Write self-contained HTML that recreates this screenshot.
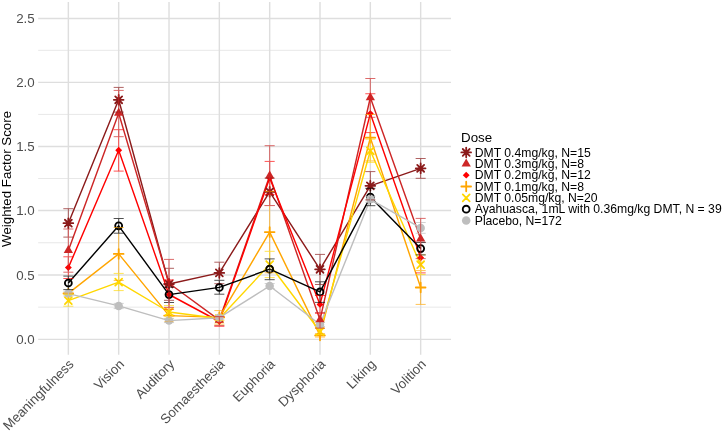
<!DOCTYPE html><html><head><meta charset="utf-8"><title>Weighted Factor Score by Dose</title><style>html,body{margin:0;padding:0;background:#fff}svg{display:block}text{font-family:"Liberation Sans",Arial,sans-serif}</style></head><body>
<svg width="722" height="432" viewBox="0 0 722 432">
<rect width="722" height="432" fill="#fff"/>
<g stroke="#DEDEDE" fill="none">
<path d="M38.15 307.15H451.0" stroke-width="0.71"/>
<path d="M38.15 242.75H451.0" stroke-width="0.71"/>
<path d="M38.15 178.50H451.0" stroke-width="0.71"/>
<path d="M38.15 114.40H451.0" stroke-width="0.71"/>
<path d="M38.15 50.35H451.0" stroke-width="0.71"/>
<path d="M38.15 339.40H451.0" stroke-width="1.42"/>
<path d="M38.15 275.00H451.0" stroke-width="1.42"/>
<path d="M38.15 210.50H451.0" stroke-width="1.42"/>
<path d="M38.15 146.45H451.0" stroke-width="1.42"/>
<path d="M38.15 82.40H451.0" stroke-width="1.42"/>
<path d="M38.15 18.50H451.0" stroke-width="1.42"/>
<path d="M68.35 2.0V354.7" stroke-width="1.42"/>
<path d="M118.68 2.0V354.7" stroke-width="1.42"/>
<path d="M169.01 2.0V354.7" stroke-width="1.42"/>
<path d="M219.34 2.0V354.7" stroke-width="1.42"/>
<path d="M269.67 2.0V354.7" stroke-width="1.42"/>
<path d="M320.00 2.0V354.7" stroke-width="1.42"/>
<path d="M370.33 2.0V354.7" stroke-width="1.42"/>
<path d="M420.66 2.0V354.7" stroke-width="1.42"/>
</g>
<g fill="none" stroke-width="1.42" stroke-linejoin="round" stroke-linecap="butt">
<path d="M68.35 223.20L118.68 99.80L169.01 284.00L219.34 272.90L269.67 191.80L320.00 269.30L370.33 185.80L420.66 168.30" stroke="#8B1A1A"/>
<path d="M68.35 250.40L118.68 113.20L169.01 283.20L219.34 320.10L269.67 175.80L320.00 319.80L370.33 97.50L420.66 238.90" stroke="#CD2626"/>
<path d="M68.35 267.60L118.68 150.30L169.01 294.50L219.34 321.50L269.67 177.90L320.00 304.40L370.33 113.60L420.66 257.70" stroke="#FF0000"/>
<path d="M68.35 293.40L118.68 253.90L169.01 315.60L219.34 317.40L269.67 232.10L320.00 335.40L370.33 137.70L420.66 287.50" stroke="#FFA500"/>
<path d="M68.35 300.60L118.68 282.10L169.01 312.00L219.34 318.50L269.67 264.50L320.00 331.50L370.33 150.80L420.66 264.70" stroke="#FFD700"/>
<path d="M68.35 283.00L118.68 225.80L169.01 294.60L219.34 287.40L269.67 269.20L320.00 291.90L370.33 197.10L420.66 248.60" stroke="#000000"/>
<path d="M68.35 293.60L118.68 305.90L169.01 320.60L219.34 317.70L269.67 286.00L320.00 324.50L370.33 199.30L420.66 227.90" stroke="#BEBEBE"/>
</g>
<g>
<path d="M64.91 219.76L71.79 226.64M64.91 226.64L71.79 219.76M63.49 223.20L73.21 223.20M68.35 218.34L68.35 228.06" stroke="#8B1A1A" stroke-width="1.8" stroke-linecap="round" fill="none"/>
<path d="M64.91 267.60L68.35 264.16L71.79 267.60L68.35 271.04Z" fill="#FF0000"/>
<path d="M63.49 293.40L73.21 293.40M68.35 288.54L68.35 298.26" stroke="#FFA500" stroke-width="1.8" stroke-linecap="round" fill="none"/>
<path d="M64.91 297.16L71.79 304.04M64.91 304.04L71.79 297.16" stroke="#FFD700" stroke-width="1.8" stroke-linecap="round" fill="none"/>
<circle cx="68.35" cy="283.00" r="3.44" fill="none" stroke="#000000" stroke-width="1.87"/>
<circle cx="68.35" cy="293.60" r="4.26" fill="#BEBEBE"/>
<path d="M68.35 245.05L72.98 253.07L63.72 253.07Z" fill="#CD2626"/>
<path d="M115.24 96.36L122.12 103.24M115.24 103.24L122.12 96.36M113.82 99.80L123.54 99.80M118.68 94.94L118.68 104.66" stroke="#8B1A1A" stroke-width="1.8" stroke-linecap="round" fill="none"/>
<path d="M115.24 150.30L118.68 146.86L122.12 150.30L118.68 153.74Z" fill="#FF0000"/>
<path d="M113.82 253.90L123.54 253.90M118.68 249.04L118.68 258.76" stroke="#FFA500" stroke-width="1.8" stroke-linecap="round" fill="none"/>
<path d="M115.24 278.66L122.12 285.54M115.24 285.54L122.12 278.66" stroke="#FFD700" stroke-width="1.8" stroke-linecap="round" fill="none"/>
<circle cx="118.68" cy="225.80" r="3.44" fill="none" stroke="#000000" stroke-width="1.87"/>
<circle cx="118.68" cy="305.90" r="4.26" fill="#BEBEBE"/>
<path d="M118.68 107.85L123.31 115.87L114.05 115.87Z" fill="#CD2626"/>
<path d="M169.01 277.85L173.64 285.87L164.38 285.87Z" fill="#CD2626"/>
<path d="M165.57 280.56L172.45 287.44M165.57 287.44L172.45 280.56M164.15 284.00L173.87 284.00M169.01 279.14L169.01 288.86" stroke="#8B1A1A" stroke-width="1.8" stroke-linecap="round" fill="none"/>
<path d="M165.57 294.50L169.01 291.06L172.45 294.50L169.01 297.94Z" fill="#FF0000"/>
<path d="M164.15 315.60L173.87 315.60M169.01 310.74L169.01 320.46" stroke="#FFA500" stroke-width="1.8" stroke-linecap="round" fill="none"/>
<path d="M165.57 308.56L172.45 315.44M165.57 315.44L172.45 308.56" stroke="#FFD700" stroke-width="1.8" stroke-linecap="round" fill="none"/>
<circle cx="169.01" cy="294.60" r="3.44" fill="none" stroke="#000000" stroke-width="1.87"/>
<circle cx="169.01" cy="320.60" r="4.26" fill="#BEBEBE"/>
<path d="M215.90 269.46L222.78 276.34M215.90 276.34L222.78 269.46M214.48 272.90L224.20 272.90M219.34 268.04L219.34 277.76" stroke="#8B1A1A" stroke-width="1.8" stroke-linecap="round" fill="none"/>
<path d="M215.90 321.50L219.34 318.06L222.78 321.50L219.34 324.94Z" fill="#FF0000"/>
<path d="M214.48 317.40L224.20 317.40M219.34 312.54L219.34 322.26" stroke="#FFA500" stroke-width="1.8" stroke-linecap="round" fill="none"/>
<path d="M215.90 315.06L222.78 321.94M215.90 321.94L222.78 315.06" stroke="#FFD700" stroke-width="1.8" stroke-linecap="round" fill="none"/>
<circle cx="219.34" cy="287.40" r="3.44" fill="none" stroke="#000000" stroke-width="1.87"/>
<path d="M219.34 314.75L223.97 322.77L214.71 322.77Z" fill="#CD2626"/>
<circle cx="219.34" cy="317.70" r="4.26" fill="#BEBEBE"/>
<path d="M266.23 188.36L273.11 195.24M266.23 195.24L273.11 188.36M264.81 191.80L274.53 191.80M269.67 186.94L269.67 196.66" stroke="#8B1A1A" stroke-width="1.8" stroke-linecap="round" fill="none"/>
<path d="M266.23 177.90L269.67 174.46L273.11 177.90L269.67 181.34Z" fill="#FF0000"/>
<path d="M264.81 232.10L274.53 232.10M269.67 227.24L269.67 236.96" stroke="#FFA500" stroke-width="1.8" stroke-linecap="round" fill="none"/>
<path d="M266.23 261.06L273.11 267.94M266.23 267.94L273.11 261.06" stroke="#FFD700" stroke-width="1.8" stroke-linecap="round" fill="none"/>
<circle cx="269.67" cy="269.20" r="3.44" fill="none" stroke="#000000" stroke-width="1.87"/>
<circle cx="269.67" cy="286.00" r="4.26" fill="#BEBEBE"/>
<path d="M269.67 170.45L274.30 178.47L265.04 178.47Z" fill="#CD2626"/>
<path d="M316.56 265.86L323.44 272.74M316.56 272.74L323.44 265.86M315.14 269.30L324.86 269.30M320.00 264.44L320.00 274.16" stroke="#8B1A1A" stroke-width="1.8" stroke-linecap="round" fill="none"/>
<path d="M316.56 304.40L320.00 300.96L323.44 304.40L320.00 307.84Z" fill="#FF0000"/>
<path d="M315.14 335.40L324.86 335.40M320.00 330.54L320.00 340.26" stroke="#FFA500" stroke-width="1.8" stroke-linecap="round" fill="none"/>
<path d="M316.56 328.06L323.44 334.94M316.56 334.94L323.44 328.06" stroke="#FFD700" stroke-width="1.8" stroke-linecap="round" fill="none"/>
<circle cx="320.00" cy="291.90" r="3.44" fill="none" stroke="#000000" stroke-width="1.87"/>
<circle cx="320.00" cy="324.50" r="4.26" fill="#BEBEBE"/>
<path d="M320.00 314.45L324.63 322.47L315.37 322.47Z" fill="#CD2626"/>
<path d="M366.89 182.36L373.77 189.24M366.89 189.24L373.77 182.36M365.47 185.80L375.19 185.80M370.33 180.94L370.33 190.66" stroke="#8B1A1A" stroke-width="1.8" stroke-linecap="round" fill="none"/>
<path d="M366.89 113.60L370.33 110.16L373.77 113.60L370.33 117.04Z" fill="#FF0000"/>
<path d="M365.47 137.70L375.19 137.70M370.33 132.84L370.33 142.56" stroke="#FFA500" stroke-width="1.8" stroke-linecap="round" fill="none"/>
<path d="M366.89 147.36L373.77 154.24M366.89 154.24L373.77 147.36" stroke="#FFD700" stroke-width="1.8" stroke-linecap="round" fill="none"/>
<circle cx="370.33" cy="197.10" r="3.44" fill="none" stroke="#000000" stroke-width="1.87"/>
<circle cx="370.33" cy="199.30" r="4.26" fill="#BEBEBE"/>
<path d="M370.33 92.15L374.96 100.17L365.70 100.17Z" fill="#CD2626"/>
<path d="M417.22 164.86L424.10 171.74M417.22 171.74L424.10 164.86M415.80 168.30L425.52 168.30M420.66 163.44L420.66 173.16" stroke="#8B1A1A" stroke-width="1.8" stroke-linecap="round" fill="none"/>
<path d="M417.22 257.70L420.66 254.26L424.10 257.70L420.66 261.14Z" fill="#FF0000"/>
<path d="M415.80 287.50L425.52 287.50M420.66 282.64L420.66 292.36" stroke="#FFA500" stroke-width="1.8" stroke-linecap="round" fill="none"/>
<path d="M417.22 261.26L424.10 268.14M417.22 268.14L424.10 261.26" stroke="#FFD700" stroke-width="1.8" stroke-linecap="round" fill="none"/>
<circle cx="420.66" cy="248.60" r="3.44" fill="none" stroke="#000000" stroke-width="1.87"/>
<circle cx="420.66" cy="227.90" r="4.26" fill="#BEBEBE"/>
<path d="M420.66 233.55L425.29 241.57L416.03 241.57Z" fill="#CD2626"/>
</g>
<g fill="none" stroke-width="1" opacity="0.68">
<path d="M63.32 208.70H73.38M68.35 208.70V237.10M63.32 237.10H73.38M113.65 87.40H123.71M118.68 87.40V112.10M113.65 112.10H123.71M163.98 268.30H174.04M169.01 268.30V300.30M163.98 300.30H174.04M214.31 262.20H224.37M219.34 262.20V283.70M214.31 283.70H224.37M264.64 178.10H274.70M269.67 178.10V205.50M264.64 205.50H274.70M314.97 254.40H325.03M320.00 254.40V284.50M314.97 284.50H325.03M365.30 171.60H375.36M370.33 171.60V199.90M365.30 199.90H375.36M415.63 158.50H425.69M420.66 158.50V178.30M415.63 178.30H425.69" stroke="#8B1A1A"/>
<path d="M63.32 256.80H73.38M68.35 256.80V278.50M63.32 278.50H73.38M113.65 129.70H123.71M118.68 129.70V171.10M113.65 171.10H123.71M163.98 279.90H174.04M169.01 279.90V309.40M163.98 309.40H174.04M214.31 316.70H224.37M219.34 316.70V326.30M214.31 326.30H224.37M264.64 161.40H274.70M269.67 161.40V194.30M264.64 194.30H274.70M314.97 295.50H325.03M320.00 295.50V313.30M314.97 313.30H325.03M365.30 93.75H375.36M370.33 93.75V132.60M365.30 132.60H375.36M415.63 242.50H425.69M420.66 242.50V272.90M415.63 272.90H425.69" stroke="#FF0000"/>
<path d="M63.32 293.10H73.38M68.35 293.10V293.70M63.32 293.70H73.38M113.65 227.50H123.71M118.68 227.50V280.40M113.65 280.40H123.71M163.98 309.00H174.04M169.01 309.00V322.00M163.98 322.00H174.04M214.31 310.60H224.37M219.34 310.60V324.10M214.31 324.10H224.37M264.64 191.40H274.70M269.67 191.40V272.80M264.64 272.80H274.70M314.97 333.70H325.03M320.00 333.70V337.00M314.97 337.00H325.03M365.30 114.50H375.36M370.33 114.50V160.90M365.30 160.90H375.36M415.63 270.60H425.69M420.66 270.60V304.40M415.63 304.40H425.69" stroke="#FFA500"/>
<path d="M63.32 294.60H73.38M68.35 294.60V306.20M63.32 306.20H73.38M113.65 273.40H123.71M118.68 273.40V290.60M113.65 290.60H123.71M163.98 305.60H174.04M169.01 305.60V318.40M163.98 318.40H174.04M214.31 316.50H224.37M219.34 316.50V320.50M214.31 320.50H224.37M264.64 251.30H274.70M269.67 251.30V277.60M264.64 277.60H274.70M314.97 328.50H325.03M320.00 328.50V334.50M314.97 334.50H325.03M365.30 139.20H375.36M370.33 139.20V162.30M365.30 162.30H375.36M415.63 254.80H425.69M420.66 254.80V274.60M415.63 274.60H425.69" stroke="#FFD700"/>
<path d="M63.32 276.10H73.38M68.35 276.10V289.60M63.32 289.60H73.38M113.65 218.50H123.71M118.68 218.50V233.20M113.65 233.20H123.71M163.98 287.20H174.04M169.01 287.20V302.50M163.98 302.50H174.04M214.31 280.30H224.37M219.34 280.30V294.20M214.31 294.20H224.37M264.64 258.90H274.70M269.67 258.90V279.70M264.64 279.70H274.70M314.97 281.80H325.03M320.00 281.80V302.40M314.97 302.40H325.03M365.30 188.30H375.36M370.33 188.30V205.70M365.30 205.70H375.36M415.63 242.40H425.69M420.66 242.40V254.90M415.63 254.90H425.69" stroke="#000000"/>
<path d="M63.32 291.20H73.38M68.35 291.20V296.00M63.32 296.00H73.38M113.65 303.40H123.71M118.68 303.40V308.60M113.65 308.60H123.71M163.98 318.60H174.04M169.01 318.60V322.60M163.98 322.60H174.04M214.31 315.70H224.37M219.34 315.70V319.70M214.31 319.70H224.37M264.64 283.50H274.70M269.67 283.50V288.50M264.64 288.50H274.70M314.97 322.50H325.03M320.00 322.50V326.50M314.97 326.50H325.03M365.30 196.30H375.36M370.33 196.30V202.30M365.30 202.30H375.36M415.63 222.50H425.69M420.66 222.50V233.30M415.63 233.30H425.69" stroke="#BEBEBE"/>
<path d="M63.32 229.00H73.38M68.35 229.00V272.20M63.32 272.20H73.38M113.65 90.40H123.71M118.68 90.40V136.70M113.65 136.70H123.71M163.98 259.40H174.04M169.01 259.40V307.40M163.98 307.40H174.04M214.31 316.50H224.37M219.34 316.50V325.50M214.31 325.50H224.37M264.64 145.70H274.70M269.67 145.70V205.60M264.64 205.60H274.70M314.97 312.50H325.03M320.00 312.50V328.10M314.97 328.10H325.03M365.30 78.50H375.36M370.33 78.50V117.30M365.30 117.30H375.36M415.63 218.40H425.69M420.66 218.40V258.60M415.63 258.60H425.69" stroke="#CD2626"/>
</g>
<g font-size="13.33" fill="#4D4D4D" text-anchor="end">
<text x="34.7" y="343.80">0.0</text>
<text x="34.7" y="279.61">0.5</text>
<text x="34.7" y="215.42">1.0</text>
<text x="34.7" y="151.23">1.5</text>
<text x="34.7" y="87.04">2.0</text>
<text x="34.7" y="22.85">2.5</text>
</g>
<g font-size="13.33" fill="#4D4D4D" text-anchor="end">
<text transform="translate(74.55 365.00) rotate(-45)">Meaningfulness</text>
<text transform="translate(124.88 365.00) rotate(-45)">Vision</text>
<text transform="translate(175.21 365.00) rotate(-45)">Auditory</text>
<text transform="translate(225.54 365.00) rotate(-45)">Somaesthesia</text>
<text transform="translate(275.87 365.00) rotate(-45)">Euphoria</text>
<text transform="translate(326.20 365.00) rotate(-45)">Dysphoria</text>
<text transform="translate(376.53 365.00) rotate(-45)">Liking</text>
<text transform="translate(426.86 365.00) rotate(-45)">Volition</text>
</g>
<text font-size="13.33" fill="#000" text-anchor="middle" transform="translate(11.4 178.9) rotate(-90)">Weighted Factor Score</text>
<text font-size="13.33" fill="#000" x="461" y="141.6">Dose</text>
<g font-size="12.2" fill="#000">
<path d="M462.76 149.01L469.64 155.89M462.76 155.89L469.64 149.01M461.34 152.45L471.06 152.45M466.20 147.59L466.20 157.31" stroke="#8B1A1A" stroke-width="1.8" stroke-linecap="round" fill="none"/>
<text x="474.75" y="156.50">DMT 0.4mg/kg, N=15</text>
<path d="M466.20 158.45L470.83 166.47L461.57 166.47Z" fill="#CD2626"/>
<text x="474.75" y="167.85">DMT 0.3mg/kg, N=8</text>
<path d="M462.76 175.15L466.20 171.71L469.64 175.15L466.20 178.59Z" fill="#FF0000"/>
<text x="474.75" y="179.20">DMT 0.2mg/kg, N=12</text>
<path d="M461.34 186.50L471.06 186.50M466.20 181.64L466.20 191.36" stroke="#FFA500" stroke-width="1.8" stroke-linecap="round" fill="none"/>
<text x="474.75" y="190.55">DMT 0.1mg/kg, N=8</text>
<path d="M462.76 194.41L469.64 201.29M462.76 201.29L469.64 194.41" stroke="#FFD700" stroke-width="1.8" stroke-linecap="round" fill="none"/>
<text x="474.75" y="201.90">DMT 0.05mg/kg, N=20</text>
<circle cx="466.20" cy="209.20" r="3.44" fill="none" stroke="#000000" stroke-width="1.87"/>
<text x="474.75" y="213.25">Ayahuasca, 1mL with 0.36mg/kg DMT, N = 39</text>
<circle cx="466.20" cy="220.55" r="4.26" fill="#BEBEBE"/>
<text x="474.75" y="224.60">Placebo, N=172</text>
</g>
</svg></body></html>
